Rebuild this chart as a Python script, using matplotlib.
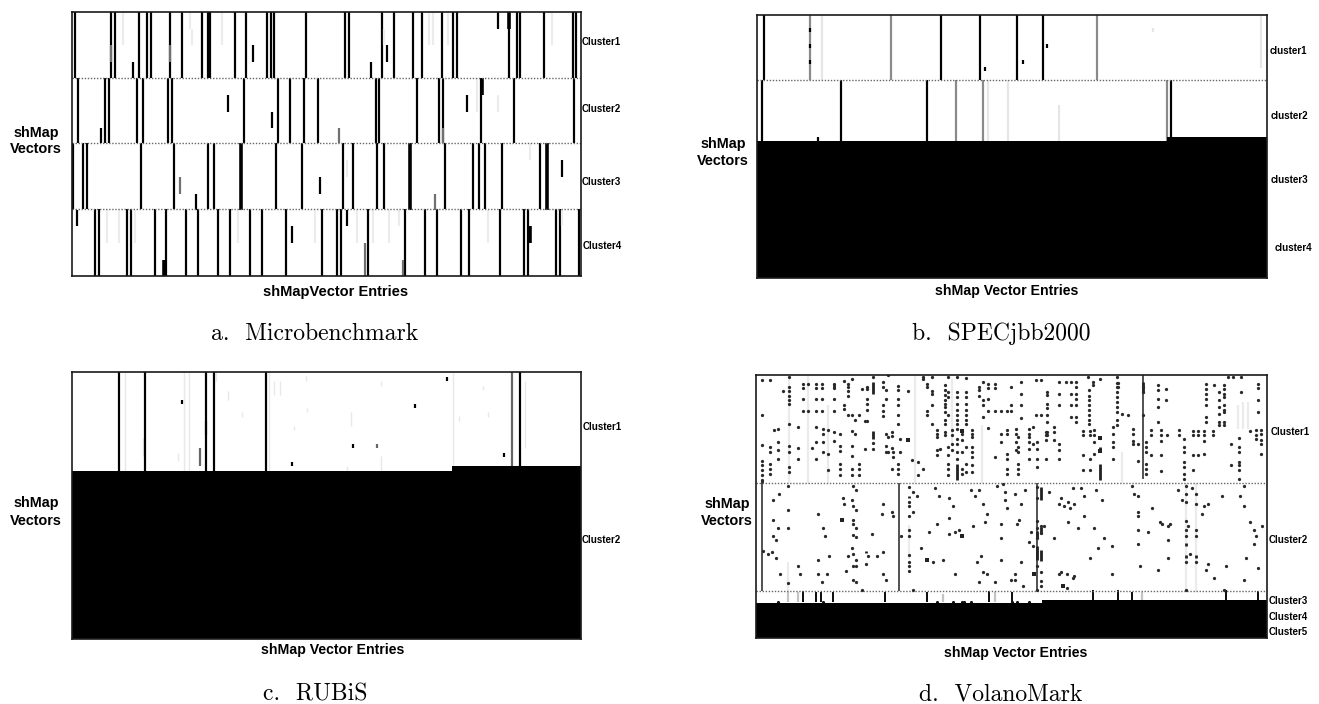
import matplotlib
matplotlib.use("Agg")
import matplotlib.pyplot as plt

W, H = 1319, 704
SANS = "Liberation Sans"

# ---------- a. Microbenchmark ----------
a_edges = [36, 235, 429, 629, 829]
a_full = [
    [178, 264, 272, 330, 350, 358, 404, 432, 480, 493, 499, 557, 585, 634, 644, 650, 727, 820, 829,
     907, 935, 982, 1003, 1050, 1076, 1085, 1209, 1227, 1236, 1292, 1360, 1369],
    [186, 250, 258, 326, 339, 400, 408, 580, 660, 689, 723, 755, 892, 900, 991, 1043, 1052, 1143, 1221, 1363],
    [174, 197, 207, 335, 414, 495, 508, 656, 717, 815, 838, 895, 913, 1058, 1123, 1137, 1152, 1192, 1283],
    [226, 235, 301, 311, 369, 394, 442, 470, 518, 546, 594, 622, 680, 765, 801, 810, 875, 961, 1010,
     1038, 1096, 1115, 1188, 1245, 1254, 1321, 1331, 1375],
]
a_thick = [(1209, 36, 86), (1146, 235, 285), (572, 429, 632), (974, 429, 632), (1299, 429, 632),
           (1258, 680, 730), (390, 780, 829)]
a_short = [(316, 186, 235), (881, 186, 235), (1183, 36, 86), (602, 136, 186), (919, 136, 186),
           (541, 285, 335), (1109, 285, 335), (646, 335, 385), (240, 385, 429),
           (1335, 482, 533), (760, 533, 582), (465, 582, 632), (183, 632, 680), (824, 632, 680), (693, 680, 730)]
a_gray = [(805, 385, 429), (427, 533, 582), (1033, 582, 632), (958, 780, 829), (868, 730, 829),
          (264, 136, 186), (404, 136, 186), (1052, 385, 429)]
a_light = [(292, 36, 136), (452, 36, 86), (457, 86, 136), (1020, 36, 136), (1028, 36, 136), (1063, 36, 136),
           (528, 36, 136), (1312, 36, 136), (912, 86, 136), (1133, 235, 335), (1184, 285, 335), (1259, 429, 482),
           (824, 482, 533), (255, 632, 730), (283, 632, 730), (320, 632, 730), (565, 632, 730), (748, 632, 730),
           (848, 632, 730), (885, 632, 730), (924, 632, 730), (948, 632, 680), (1160, 632, 730), (1334, 632, 680)]

# ---------- b. SPECjbb2000 ----------
b_sep = [242]
b_dark = [(247, 46, 240), (668, 46, 240), (759, 46, 240), (847, 46, 240), (909, 46, 240),
          (241, 240, 423), (429, 240, 423), (635, 240, 423), (1213, 240, 411),
          (773, 203, 215), (861, 180, 192), (918, 132, 144), (375, 411, 423),
          (356, 84, 96), (356, 132, 144), (356, 180, 192)]
b_gray = [(356, 46, 240), (549, 46, 240), (1037, 46, 240), (702, 240, 423), (768, 240, 423), (1205, 240, 423)]
b_light = [(385, 46, 240), (1428, 46, 205), (826, 240, 423), (778, 240, 423), (947, 315, 423), (1170, 84, 96)]
b_edge_x = [230, 1205, 1442]
b_edge_y = [423, 411, 411]

# ---------- c. RUBiS ----------
c_dark = [(344, 37, 333), (489, 37, 333), (508, 37, 333), (632, 37, 333), (1235, 37, 318), (282, 37, 333),
          (432, 120, 132), (1062, 52, 65), (986, 132, 144), (838, 252, 264), (693, 306, 318), (1197, 279, 291)]
c_gray = [(1217, 37, 318), (895, 252, 264), (475, 265, 318), (489, 185, 225)]
c_light = [(297, 37, 333), (437, 37, 333), (450, 37, 333), (640, 37, 333), (650, 65, 105), (665, 65, 105),
           (833, 158, 198), (698, 198, 212), (514, 37, 65), (1075, 37, 333), (1247, 65, 265), (905, 290, 333),
           (905, 65, 80), (542, 95, 120), (1090, 170, 185), (340, 235, 290), (422, 280, 305), (825, 318, 333),
           (727, 50, 65), (574, 158, 172), (730, 145, 158), (1147, 80, 92), (1158, 158, 172)]
c_edge_x = [170, 1074, 1380]
c_edge_y = [333, 318, 318]

# ---------- d. VolanoMark: (entry, [vectors]) ----------
d_c1_left = [
    (20, [25, 130, 220, 268, 280, 295, 310, 325]), (45, [25, 225, 240, 275, 292, 305]), (58, [173]),
    (70, [170, 210, 235, 262]), (85, [58]), (103, [15, 45, 58, 72, 85, 97, 155, 222, 240, 285, 300]),
    (130, [165, 228, 262]), (145, [35, 47, 82, 118]), (158, [35, 118]), (170, [228]),
    (183, [35, 47, 82, 118, 165, 210, 262]), (200, [35, 47, 82, 118]), (205, [170, 185, 210, 240]),
    (220, [175, 245, 295]), (237, [35, 47, 82, 118, 180, 208]), (255, [185, 222, 238, 275, 290, 310]),
    (268, [28, 100, 110]), (278, [35, 45, 58, 72, 130]), (290, [22, 130, 178, 222, 252, 290, 310]),
    (300, [145, 185]), (312, [130, 275, 290, 310]), (322, [52]), (330, [148, 232]),
    (337, [45, 52, 82, 97, 115, 148]), (355, [15, 212, 232]), (385, [30, 45, 100, 118, 132]),
    (392, [55, 82, 185, 222, 240]), (400, [10, 195, 240]), (410, [180, 192, 228, 290]), (415, [240, 255]),
    (428, [42, 55, 82, 100, 130, 155, 275, 290, 305]), (435, [200, 240]), (458, [58]), (470, [265]),
    (488, [270, 310]), (505, [15, 22, 290]), (515, [35, 45, 118, 130]), (530, [15, 58, 65, 100, 155]),
    (545, [175, 185, 195, 235, 250]), (555, [230]), (570, [40, 55, 70, 85, 95, 105, 120, 145, 155, 180, 190]),
    (578, [15, 60, 75, 130, 225, 250, 275, 292, 310]), (590, [175, 190, 215, 235]),
    (605, [15, 60, 75, 95, 115, 130, 145, 155, 170, 200, 215, 240, 262]), (622, [178, 185, 205, 240, 290, 305]),
    (632, [18, 60, 75, 95, 115, 130, 145, 155, 225, 275, 300]), (650, [175, 185, 195, 225, 240, 255, 280, 300]),
    (672, [45, 55, 72]), (685, [30, 85, 100, 135]), (700, [35, 47, 82, 118, 168]), (720, [35, 47, 118, 255]),
    (738, [118, 185, 210]), (755, [118, 175, 185, 245, 260, 290, 305]),
]
d_c1_right = [
    (768, [45, 100, 118]), (798, [30, 65, 100, 138]), (843, [25, 130]), (858, [25, 130]),
    (876, [60, 70, 95, 108, 130, 150, 180, 190]), (911, [30, 65, 100]), (933, [30]), (948, [30, 65, 100, 135]),
    (963, [30, 45, 65, 80, 100, 135, 150]), (1000, [15]), (1013, [30, 40]),
    (1003, [55, 72, 85, 100, 115, 130, 145, 155]), (1036, [22]),
    (1086, [15, 32, 45, 60, 75, 90, 105, 120, 145, 160]), (1090, [32, 45]), (1100, [125]), (1120, [130]),
    (1163, [45, 60, 130]), (1208, [40, 55, 80, 105, 150]), (1233, [50, 85]),
    (1353, [35, 50, 65, 80, 100, 135, 150]), (1378, [40]), (1393, [60, 85, 105, 125, 150, 158]),
    (1408, [38, 52, 65, 75, 100, 115, 120, 150, 158]), (1418, [15]), (1433, [15]), (1458, [15, 60]),
    (1508, [35, 47, 85, 120]), (783, [170, 185, 210, 235]), (790, [195, 225, 240, 275, 290, 305]),
    (823, [170, 185, 195, 210, 232, 262]), (833, [165, 215]), (846, [210, 232, 262, 285]),
    (873, [180, 190, 205, 262]), (898, [165, 180, 205]), (911, [215, 235, 262]), (983, [178, 190, 250, 295]),
    (1006, [178, 190, 262, 295]), (1018, [175, 190, 210, 245]), (1036, [197]),
    (1073, [165, 185, 210, 225, 262]), (1133, [170, 185, 207, 215]), (1148, [215, 268]),
    (1173, [210, 225, 240, 275, 290, 305]), (1188, [175, 190, 250]), (1218, [175, 190, 208, 250, 298]),
    (1236, [190]), (1271, [175, 190]), (1288, [200, 225, 240, 270, 285, 305, 320]),
    (1313, [178, 190, 250, 295]), (1328, [178, 190, 250]), (1348, [178, 190, 208, 245]), (1373, [178, 190]),
    (1428, [215, 280]), (1453, [198, 225, 240, 270, 280, 295, 320]), (1486, [178]), (1503, [175, 190, 200]),
    (1518, [175, 185, 205, 215, 245]),
]
d_c2_left = [
    (25, [538]), (38, [545]), (50, [540]), (62, [558, 503]), (55, [383, 443, 491]), (68, [468]), (73, [365]),
    (75, [605]), (98, [341, 413, 468, 633]), (128, [581]), (135, [605]), (188, [425, 563, 605]), (200, [629]),
    (205, [467]), (210, [491]), (215, [605]), (222, [551]), (265, [377]), (268, [395]), (272, [598]),
    (290, [383, 528]), (295, [341, 401, 443, 455, 488, 545, 581, 623]), (302, [353, 413, 467, 495, 563, 583, 629]),
    (278, [551]), (320, [653]), (338, [551]), (332, [575]), (350, [485]), (367, [551]), (385, [395, 539, 605]),
    (380, [425]), (392, [623]), (410, [419]), (415, [431]), (438, [491]),
    (463, [345, 389, 403, 433, 473, 491, 548, 569, 583, 598]), (475, [361, 421, 653]), (487, [371]),
    (498, [527]), (535, [569]), (522, [479]), (547, [455]), (565, [563]), (552, [371]), (540, [347]),
    (582, [377, 437, 485]), (594, [401]), (600, [479, 605]), (612, [473]), (655, [461]), (660, [371]),
    (648, [353]), (672, [353, 629]), (684, [395, 599]), (690, [449]), (696, [425, 605]), (738, [455, 497, 563]),
    (665, [569]), (678, [551]), (720, [629]), (726, [341]), (750, [359, 383]), (756, [407]), (745, [335]),
]
d_c2_right = [
    (780, [365, 623]), (810, [353]), (798, [395]), (792, [443]), (786, [455]), (828, [479]), (822, [509]),
    (834, [521]), (798, [569]), (780, [605]), (768, [623]), (804, [641]), (846, [345, 378, 448, 468, 498, 583, 655]),
    (858, [461, 483, 601, 628, 643]), (868, [461]), (881, [359]), (898, [497]), (911, [395]), (917, [377]),
    (928, [401]), (940, [389, 449]), (946, [407]), (958, [395]), (953, [347]), (977, [347]), (988, [371, 431]),
    (970, [467]), (1018, [467]), (1024, [353]), (1042, [383]), (1048, [497]), (1030, [527]), (1072, [521, 605]),
    (1006, [557]), (911, [605]), (917, [599]), (935, [605, 647]), (953, [617]), (958, [611]),
    (1132, [341]), (1138, [365]), (1150, [371, 419, 431, 473, 515]), (1192, [407]), (1180, [479]), (1216, [449]),
    (1222, [455]), (1240, [461, 503, 557]), (1246, [455]), (1156, [581]), (1210, [593]), (1270, [353]), (1282, [383]),
    (1294, [341, 365, 389, 448, 473, 491, 569, 655]), (1300, [461]), (1306, [545]), (1312, [347]),
    (1324, [365, 395, 473, 491, 569]), (1348, [401]), (1360, [395]), (1342, [425]), (1360, [575]), (1354, [593]),
    (1378, [617]), (1401, [371]), (1413, [581]), (1455, [371]), (1467, [341, 401, 623]), (1485, [449]),
    (1497, [473, 515]), (1503, [491]), (1521, [461]), (1473, [557]), (1509, [587]), (1408, [653]),
]
d_bars = [(355, 30, 65), (355, 178, 200), (237, 35, 47), (1163, 30, 62), (1036, 225, 240), (1036, 275, 325),
          (1036, 197, 200), (846, 478, 498), (846, 522, 563), (858, 345, 383), (858, 533, 568), (858, 465, 487),
          (1294, 513, 523), (1294, 548, 558), (1324, 548, 558), (463, 371, 378), (332, 538, 543), (605, 275, 325),
          (20, 325, 333)]
d_wide = [(460, 203), (260, 443), (515, 563), (622, 491), (1036, 197), (622, 178), (1036, 237), (923, 643), (837, 605)]
d_dark_lines = [(20, 333, 658), (433, 333, 658), (846, 333, 658), (1163, 9, 320)]
d_faint = [(103, 9, 333), (158, 9, 333), (220, 100, 333), (480, 9, 333), (590, 20, 220),
           (463, 460, 560), (98, 570, 660), (1293, 333, 660), (1324, 333, 660),
           (1448, 100, 170), (1463, 90, 170), (1478, 90, 170), (680, 160, 333), (1100, 240, 333)]
d_ticks = [(145, 658, 690), (182, 660, 690), (198, 660, 690), (235, 660, 690), (390, 660, 690), (517, 660, 690),
           (702, 658, 690), (770, 660, 690), (1013, 655, 687), (1090, 655, 687), (1132, 660, 687),
           (1413, 655, 687), (1509, 658, 687)]
d_tick_gray = [(128, 660, 690), (720, 660, 690), (565, 665, 690), (1160, 660, 687), (98, 660, 690)]
d_bumps = [68, 205, 547, 594, 622, 626, 648, 770, 786, 822]
d_seps = [333, 658]
d_edge_x = [3, 860, 1536]
d_edge_y = [693, 685, 685]


def make_axes(fig, left, right, top, bottom, xlim, ylim):
    ax = fig.add_axes([left / W, 1 - bottom / H, (right - left) / W, (bottom - top) / H])
    ax.set_xlim(*xlim)
    ax.set_ylim(*ylim)
    ax.set_xticks([])
    ax.set_yticks([])
    for s in ax.spines.values():
        s.set_linewidth(1.2)
        s.set_color("#1a1a1a")
        s.set_zorder(10)
    return ax


def seg(ax, items, color, px=2.2, z=2):
    if items:
        ax.vlines([i[0] for i in items], [i[1] for i in items], [i[2] for i in items],
                  colors=color, linewidth=px * 0.72, capstyle="butt", zorder=z)


def sep(ax, ys, x0, x1):
    ax.hlines(ys, x0, x1, colors="#666666", linewidth=1.0, linestyles=(0, (1, 1.2)), zorder=3)


def label(fig, x, y, s, size, ha="center", **kw):
    fig.text(x / W, 1 - y / H, s, ha=ha, va="center", fontsize=size, **kw)


fig = plt.figure(figsize=(W / 100, H / 100), dpi=100, facecolor="white")

# panel a
ax = make_axes(fig, 72, 581, 12, 276, (171, 1380), (829, 36))
for i, xs in enumerate(a_full):
    seg(ax, [(x, a_edges[i], a_edges[i + 1]) for x in xs], "black")
seg(ax, a_thick, "black", px=3.6)
seg(ax, a_short, "black")
seg(ax, a_gray, "#707070")
seg(ax, a_light, "#ececec")
sep(ax, a_edges[1:4], 171, 1380)

# panel b
ax = make_axes(fig, 757, 1267, 15, 278, (230, 1442), (834, 46))
seg(ax, b_light, "#e6e6e6")
seg(ax, b_gray, "#8a8a8a")
seg(ax, b_dark, "black")
sep(ax, b_sep, 230, 1442)
ax.fill_between(b_edge_x, b_edge_y, 834, step="post", color="black", lw=0, zorder=5)

# panel c
ax = make_axes(fig, 71.5, 581, 372, 639, (170, 1380), (837, 37))
seg(ax, c_light, "#e8e8e8", px=1.4)
seg(ax, c_gray, "#666666")
seg(ax, c_dark, "black")
ax.fill_between(c_edge_x, c_edge_y, 837, step="post", color="black", lw=0, zorder=5)

# panel d
ax = make_axes(fig, 756, 1267, 375, 638, (3, 1536), (798, 9))
seg(ax, d_faint, "#ebebeb", px=2.2, z=1)
seg(ax, d_dark_lines, "#555555", px=2.0)
seg(ax, d_bars, "#222222", px=2.8)
seg(ax, d_ticks, "#111111", px=2.0)
seg(ax, d_tick_gray, "#c4c4c4", px=2.2)
for group in (d_c1_left, d_c1_right, d_c2_left, d_c2_right):
    xs = [c for c, ys in group for _ in ys]
    ys = [y for _, col in group for y in col]
    ax.scatter(xs, ys, s=5.5, c="#2a2a2a", linewidths=0, zorder=4)
ax.scatter([p[0] for p in d_wide], [p[1] for p in d_wide], s=10, marker="s", c="#222222", linewidths=0, zorder=4)
ax.scatter(d_bumps, [691] * len(d_bumps), s=5, c="#111111", linewidths=0, zorder=4)
sep(ax, d_seps, 3, 1536)
ax.fill_between(d_edge_x, d_edge_y, 798, step="post", color="black", lw=0, zorder=5)

# texts
bold = dict(family=SANS, fontweight="bold")
for x, y in [(36, 133), (723, 144), (36, 503), (727, 504)]:
    label(fig, x, y, "shMap", 10.4, **bold)
for x, y in [(36, 149), (723, 161), (36, 521), (727, 521)]:
    label(fig, x, y, "Vectors", 10.4, **bold)
label(fig, 335.5, 292, "shMapVector Entries", 10.5, **bold)
label(fig, 1007, 291, "shMap Vector Entries", 10.2, **bold)
label(fig, 332.5, 650, "shMap Vector Entries", 10.2, **bold)
label(fig, 1016, 653, "shMap Vector Entries", 10.2, **bold)
for x, y, s in [(582, 42, "Cluster1"), (582, 109, "Cluster2"), (582, 182, "Cluster3"), (583, 246, "Cluster4"),
                (1270, 51, "cluster1"), (1271, 116, "cluster2"), (1271, 180, "cluster3"), (1275, 248, "cluster4"),
                (583, 427, "Cluster1"), (582, 540, "Cluster2"),
                (1271, 432, "Cluster1"), (1269, 540, "Cluster2"), (1269, 601, "Cluster3"),
                (1269, 617, "Cluster4"), (1269, 632, "Cluster5")]:
    label(fig, x, y, s, 7.0, ha="left", **bold)
for x, y, s in [(315, 334, "a.  Microbenchmark"), (1001, 334, "b.  SPECjbb2000"),
                (315, 694, "c.  RUBiS"), (1001, 694, "d.  VolanoMark")]:
    label(fig, x, y, s, 17, family="cmr10")

fig.savefig("out.png", dpi=100, facecolor="white")
